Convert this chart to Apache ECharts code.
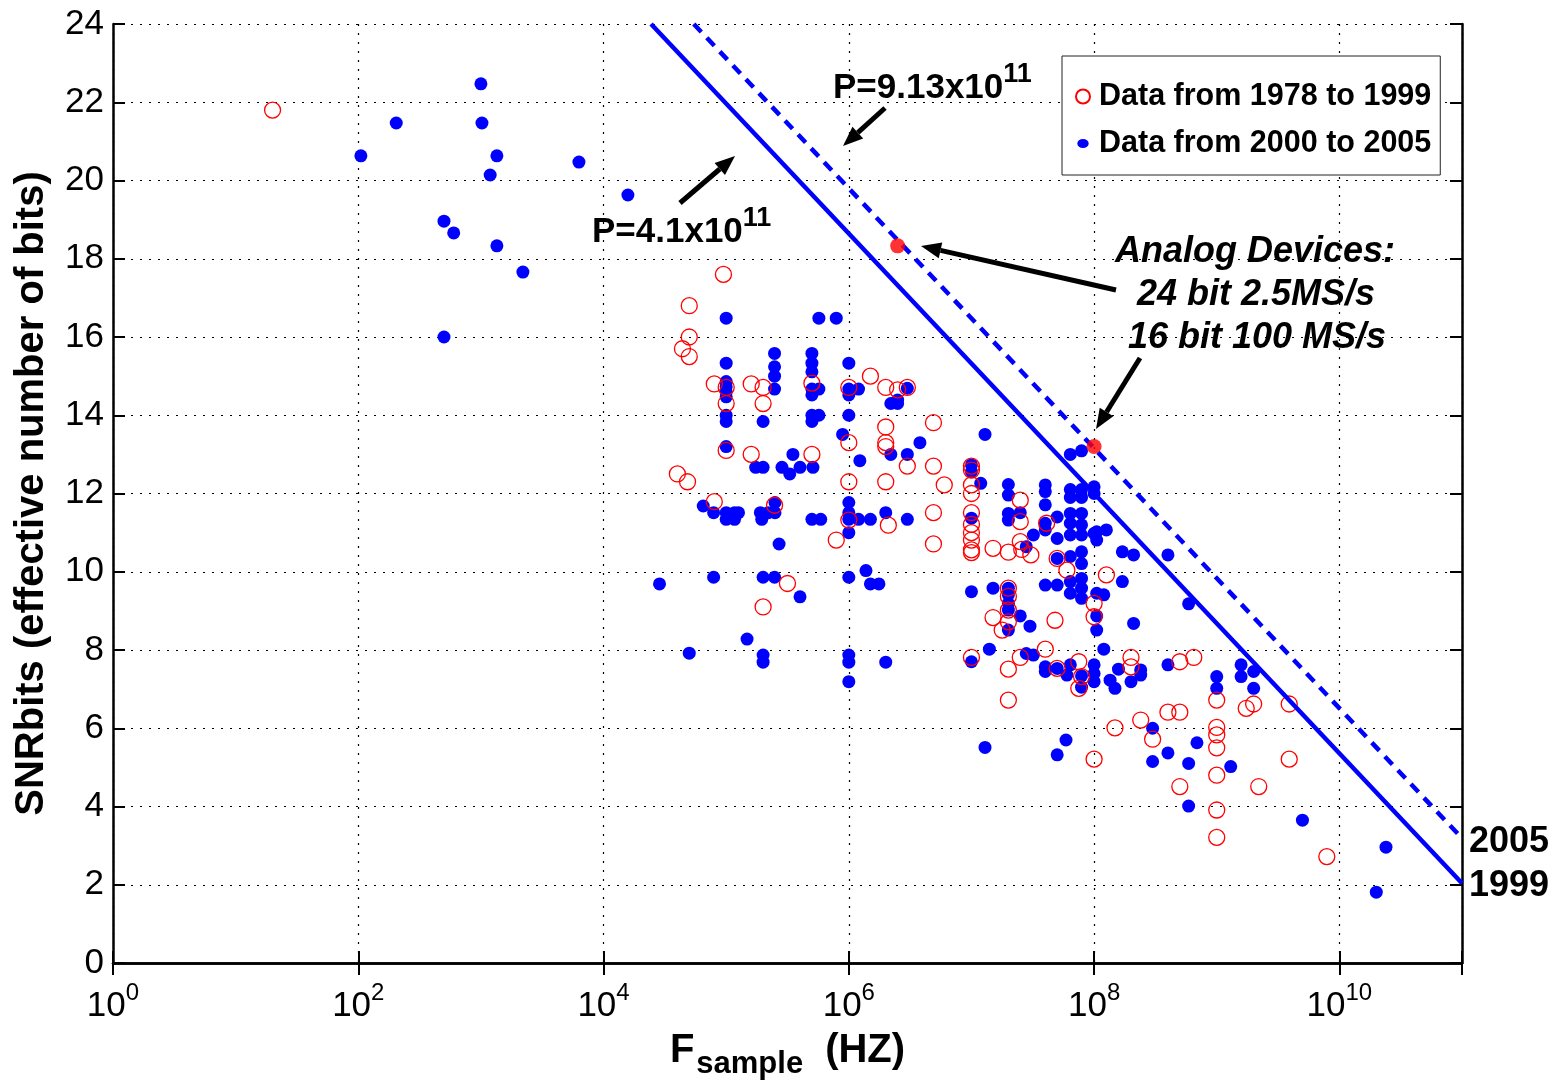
<!DOCTYPE html>
<html>
<head>
<meta charset="utf-8">
<script src="https://cdn.jsdelivr.net/npm/echarts@6/dist/echarts.min.js"></script>
<style>
html,body{margin:0;padding:0;background:#fff;}
#chart{width:1558px;height:1086px;}
</style>
</head>
<body>
<div id="chart"></div>
<script>
// ---- data: [sample frequency (Hz), SNR bits] ----
const data1978to1999 = [
  [20, 21.8],
  [9.5e4, 17.6], [5.0e4, 16.8], [5.0e4, 16.0], [4.4e4, 15.7], [5.0e4, 15.5],
  [8.0e4, 14.8], [1e5, 14.71], [1e5, 14.3], [1.6e5, 14.8], [2e5, 14.71], [2e5, 14.3],
  [5e5, 14.82], [1e6, 14.71], [1.5e6, 15.0], [2e6, 14.71], [2.5e6, 14.65], [3e6, 14.71],
  [1e5, 13.1], [1.6e5, 13.0], [5e5, 13.0], [1e6, 13.3], [2e6, 13.7], [2e6, 13.3], [2e6, 13.2],
  [3e6, 12.7], [4e4, 12.5], [4.84e4, 12.3], [1e6, 12.3], [2e6, 12.3],
  [8e4, 11.79], [2.48e5, 11.7], [1e6, 11.32], [2.1e6, 11.19], [7.9e5, 10.81],
  [3.16e5, 9.7], [2e5, 9.1],
  [4.9e6, 13.81], [4.9e6, 12.7], [6e6, 12.22],
  [1e7, 12.7], [1e7, 12.6], [1e7, 12.22], [1e7, 12.0],
  [4.9e6, 11.51],
  [1e7, 11.51], [1e7, 11.21], [1e7, 11.0], [1e7, 10.81], [1e7, 10.56], [1e7, 10.49],
  [4.9e6, 10.71], [1.5e7, 10.6], [2e7, 10.5],
  [2.5e7, 11.83], [2.5e7, 11.28], [2.5e7, 10.77], [2.57e7, 10.57], [3.05e7, 10.43],
  [4.1e7, 11.24], [5e7, 10.34], [6e7, 10.04], [1.26e8, 9.92],
  [2e7, 9.58], [2e7, 9.37], [2e7, 9.02],
  [1e8, 8.85], [1e8, 9.19],
  [1.5e7, 8.83], [4.8e7, 8.76],
  [2e7, 8.72], [1.78e7, 8.51],
  [1e7, 7.81], [2e7, 7.51], [2.5e7, 7.81], [4e7, 8.02], [5e7, 7.53], [7.5e7, 7.70],
  [7.5e7, 7.02], [7.9e7, 7.32],
  [2e8, 7.81], [2e8, 7.57],
  [2e7, 6.72], [1.48e8, 6.01], [2.4e8, 6.21], [1e8, 5.21],
  [5e8, 7.70], [6.5e8, 7.81],
  [1e9, 6.72], [1.74e9, 6.51], [2e9, 6.62], [3.9e9, 6.62],
  [4e8, 6.41], [5e8, 6.41], [3e8, 5.72],
  [1e9, 6.02], [1e9, 5.83], [1e9, 5.50],
  [3.9e9, 5.21], [1e9, 4.80], [5e8, 4.51], [2.2e9, 4.51],
  [7.9e9, 2.72], [1e9, 3.91], [1e9, 3.21]
];

const data2000to2005 = [
  [1000, 22.47], [204, 21.47], [1020, 21.47], [105, 20.63], [1350, 20.63], [1190, 20.14],
  [6300, 20.47], [1.58e4, 19.63], [500, 18.96], [600, 18.66], [1350, 18.33], [2200, 17.66],
  [500, 16.0],
  [1e5, 16.48], [5.7e5, 16.48], [7.9e5, 16.48],
  [1e5, 15.33], [1e5, 14.86], [1e5, 14.73], [1e5, 14.6], [1e5, 14.47], [1e5, 14.0], [1e5, 13.84], [1e5, 13.2],
  [2.48e5, 15.58], [2.48e5, 15.24], [2.48e5, 15.0], [2.48e5, 14.67],
  [5e5, 15.58], [5e5, 15.33], [5e5, 15.11], [5e5, 14.67], [5.7e5, 14.67], [5e5, 14.52],
  [5e5, 14.0], [5.7e5, 14.0], [5e5, 13.84],
  [1e6, 15.33], [1e6, 14.67], [1e6, 14.52], [1.2e6, 14.67], [1e6, 14.0],
  [8.9e5, 13.51], [2e5, 13.84],
  [2.2e6, 14.3], [2.5e6, 14.39], [2.5e6, 14.3], [3e6, 14.69],
  [2.2e6, 13.0], [3e6, 13.0], [1.23e6, 12.84], [3.5e5, 13.0],
  [1.74e5, 12.67], [2e5, 12.67], [2.85e5, 12.67], [3.3e5, 12.5], [4e5, 12.67], [5.1e5, 12.67],
  [3.8e6, 13.3],
  [6.5e4, 11.68], [7.9e4, 11.51],
  [1e5, 11.51], [1e5, 11.34], [1.17e5, 11.51], [1.26e5, 11.51], [1.17e5, 11.34],
  [1.9e5, 11.51], [1.95e5, 11.34], [2.2e5, 11.51], [2.5e5, 11.51], [2.5e5, 11.77],
  [5e5, 11.34], [5.9e5, 11.34],
  [1e6, 11.77], [1e6, 11.51], [1e6, 11.34], [1e6, 11.0],
  [1.2e6, 11.34], [1.5e6, 11.34], [2e6, 11.51], [3e6, 11.34],
  [2.7e5, 10.71], [2.86e4, 9.69], [7.9e4, 9.86], [2e5, 9.86], [2.48e5, 9.86],
  [4e5, 9.36], [1e6, 9.86], [1.38e6, 10.03], [1.5e6, 9.69], [1.76e6, 9.69],
  [1.48e5, 8.28], [5e4, 7.92], [2e5, 7.87], [2e5, 7.69],
  [1e6, 7.87], [1e6, 7.69], [1e6, 7.19], [2e6, 7.69],
  [1.29e7, 13.51], [1e7, 12.73], [1e7, 12.56], [1.19e7, 12.26],
  [2e7, 12.23], [2e7, 11.96], [4e7, 12.22], [4e7, 12.05], [4e7, 11.71],
  [6.4e7, 13.0], [7.9e7, 13.09],
  [6.4e7, 12.1], [6.4e7, 11.9], [7.9e7, 12.1], [7.9e7, 11.9], [1e8, 12.17], [1e8, 12.0],
  [2e7, 11.49], [2e7, 11.32], [2.5e7, 11.51], [5e7, 11.4],
  [4e7, 11.24], [4e7, 11.07], [3.2e7, 10.94], [2.8e7, 10.64], [5e7, 10.85],
  [6.4e7, 11.49], [6.4e7, 11.24], [6.4e7, 10.94], [7.9e7, 11.49], [7.9e7, 11.2], [7.9e7, 10.94], [1e8, 10.98],
  [1e7, 11.37],
  [6.4e7, 10.39], [7.9e7, 10.51], [7.9e7, 10.21],
  [1.05e8, 11.02], [1.26e8, 11.07], [1.05e8, 10.81], [1.7e8, 10.51],
  [5e7, 10.34], [1.7e8, 9.75], [1e7, 9.49],
  [1.5e7, 9.58], [2e7, 9.58], [2e7, 9.41], [2e7, 9.19], [2e7, 9.02],
  [4e7, 9.66], [5e7, 9.66], [6.4e7, 9.75], [6.4e7, 9.45], [7.9e7, 9.83], [7.9e7, 9.58], [7.9e7, 9.32],
  [1.05e8, 9.45], [1.2e8, 9.41],
  [2.5e7, 8.87], [1.05e8, 8.87],
  [3.0e7, 8.61], [2e7, 8.51], [1.05e8, 8.51], [2.1e8, 8.68],
  [1.4e7, 8.02], [1e7, 7.70], [2.8e7, 7.91], [3.2e7, 7.87], [1.2e8, 8.02],
  [4e7, 7.57], [4e7, 7.45], [5e7, 7.53], [6e7, 7.36], [6.4e7, 7.62],
  [7.9e7, 7.34], [7.9e7, 7.05], [1e8, 7.62], [1e8, 7.40], [1e8, 7.19],
  [1.35e8, 7.23], [1.48e8, 7.02], [1.58e8, 7.51], [2e8, 7.19], [2.4e8, 7.49],
  [1.29e7, 5.51], [5.9e7, 5.70], [5e7, 5.32],
  [2.1e8, 10.43], [4e8, 10.43], [5.9e8, 9.18],
  [4e8, 7.62], [2.4e8, 7.36],
  [1e9, 7.32], [1e9, 7.02], [1.58e9, 7.62], [2e9, 7.45], [2e9, 7.02], [1.58e9, 7.32],
  [3e8, 6.0], [6.9e8, 5.63], [4e8, 5.37], [3e8, 5.15], [5.9e8, 5.10], [1.3e9, 5.02],
  [5e9, 3.65], [2.4e10, 2.96], [2e10, 1.81], [5.9e8, 4.01]
];

// Analog Devices highlighted parts
const analogDevices = [[2.5e6, 18.33], [1e8, 13.2]];

// FOM lines (P = 2^SNRbits * Fs), end points
const line1999 = [[2.44e4, 24], [1e11, 2.04]];   // P = 4.1x10^11
const line2005 = [[5.44e4, 24], [1e11, 3.19]];   // P = 9.13x10^11

const yTicks = {min: 0, max: 24, interval: 2};
const xRange = {min: 1, max: 1e11};

const FONT = '"Liberation Sans", Arial, Helvetica, sans-serif';

const chart = echarts.init(document.getElementById('chart'), null, {renderer: 'canvas'});

function xLabel(v) {
  const e = Math.round(Math.log10(v));
  if (e % 2 !== 0 || e > 10) return '';
  return '{b|10}{s|' + e + '}';
}

function arrow(x1, y1, x2, y2) {
  const ang = Math.atan2(y2 - y1, x2 - x1);
  const L = 20, W = 8;
  const bx = x2 - L * Math.cos(ang), by = y2 - L * Math.sin(ang);
  const px = -Math.sin(ang) * W, py = Math.cos(ang) * W;
  return [
    {type: 'line', shape: {x1: x1, y1: y1, x2: bx, y2: by}, style: {stroke: '#000', lineWidth: 5}, z: 100},
    {type: 'polygon', shape: {points: [[x2, y2], [bx + px, by + py], [bx - px, by - py]]}, style: {fill: '#000'}, z: 100}
  ];
}

function txt(x, y, text, opts) {
  return {
    type: 'text', x: x, y: y, z: 101,
    style: Object.assign({
      text: text, fill: '#000', fontFamily: FONT, fontWeight: 'bold', fontSize: 36,
      align: 'left', verticalAlign: 'middle', textAlign: 'left', textVerticalAlign: 'middle'
    }, opts || {})
  };
}

const supRich = {
  m: {fontSize: 35, fontWeight: 'bold', fontFamily: FONT, color: '#000'},
  s: {fontSize: 27, fontWeight: 'bold', fontFamily: FONT, color: '#000', padding: [0, 0, 26, 0]}
};

const graphics = [].concat(
  arrow(885, 108, 843, 146),
  arrow(680, 203, 735, 156),
  arrow(1116, 290, 921, 246),
  arrow(1140, 358, 1096, 429),
  [
    txt(833, 88, '{m|P=9.13x10}{s|11}', {rich: supRich}),
    txt(592, 232, '{m|P=4.1x10}{s|11}', {rich: supRich}),
    txt(1255, 252, 'Analog Devices:', {fontStyle: 'italic', align: 'center', textAlign: 'center'}),
    txt(1256, 295, '24 bit 2.5MS/s', {fontStyle: 'italic', align: 'center', textAlign: 'center'}),
    txt(1257, 338, '16 bit 100 MS/s', {fontStyle: 'italic', align: 'center', textAlign: 'center'}),
    txt(1469, 842, '2005', {}),
    txt(1469, 886, '1999', {})
  ]
);

const axisLineStyle = {color: '#000', width: 2.5};

const option = {
  animation: false,
  backgroundColor: '#fff',
  grid: {left: 113, right: 96, top: 24, bottom: 123, containLabel: false, outerBoundsMode: 'none'},
  legend: {
    left: 1062, top: 56,
    orient: 'vertical',
    padding: [25, 9, 16, 13],
    itemGap: 16,
    itemWidth: 16, itemHeight: 14,
    borderColor: '#222', borderWidth: 1,
    backgroundColor: '#fff',
    textStyle: {fontFamily: FONT, fontWeight: 'bold', fontSize: 30.5, color: '#000', padding: [0, 0, 0, 3]},
    data: [
      {name: 'Data from 1978 to 1999', icon: 'circle'},
      {name: 'Data from 2000 to 2005', icon: 'path://M0,2 A5,4 0 1 1 10,2 A5,4 0 1 1 0,2 Z M-2,-4 L-2,-4 M12,8 L12,8'}
    ],
    z: 50
  },
  xAxis: [
    {
      type: 'log', logBase: 10, min: xRange.min, max: xRange.max, interval: 2,
      position: 'bottom',
      axisLine: {show: true, lineStyle: axisLineStyle},
      axisTick: {show: true, inside: true, length: 12, lineStyle: {color: '#000', width: 2}},
      minorTick: {show: false},
      axisLabel: {
        formatter: xLabel, margin: 18, color: '#000',
        rich: {
          b: {fontFamily: FONT, fontSize: 35, color: '#000'},
          s: {fontFamily: FONT, fontSize: 24, color: '#000', padding: [0, 0, 26, 0]}
        }
      },
      splitLine: {show: true, lineStyle: {color: '#000', width: 1.2, type: [2, 7]}},
      name: '{f|F}{sub|sample}{h|(HZ)}',
      nameLocation: 'middle', nameGap: 58,
      nameTextStyle: {
        rich: {
          f: {fontFamily: FONT, fontSize: 40, fontWeight: 'bold', color: '#000'},
          sub: {fontFamily: FONT, fontSize: 31, fontWeight: 'bold', color: '#000', padding: [28, 0, 0, 2]},
          h: {fontFamily: FONT, fontSize: 40, fontWeight: 'bold', color: '#000', padding: [0, 0, 0, 22]}
        }
      }
    },
    {
      type: 'log', logBase: 10, min: xRange.min, max: xRange.max, interval: 2,
      position: 'top',
      axisLine: {show: true, lineStyle: axisLineStyle},
      axisTick: {show: true, inside: true, length: 12, lineStyle: {color: '#000', width: 2}},
      axisLabel: {show: false},
      splitLine: {show: false}
    }
  ],
  yAxis: [
    {
      type: 'value', min: yTicks.min, max: yTicks.max, interval: yTicks.interval,
      position: 'left',
      axisLine: {show: true, lineStyle: axisLineStyle},
      axisTick: {show: true, inside: true, length: 12, lineStyle: {color: '#000', width: 2}},
      axisLabel: {fontFamily: FONT, fontSize: 35, color: '#000', margin: 9},
      splitLine: {show: true, lineStyle: {color: '#000', width: 1.2, type: [2, 7]}},
      name: 'SNRbits (effective number of bits)',
      nameLocation: 'middle', nameGap: 61, nameRotate: 90,
      nameTextStyle: {fontFamily: FONT, fontSize: 40, fontWeight: 'bold', color: '#000'}
    },
    {
      type: 'value', min: yTicks.min, max: yTicks.max, interval: yTicks.interval,
      position: 'right',
      axisLine: {show: true, lineStyle: axisLineStyle},
      axisTick: {show: true, inside: true, length: 12, lineStyle: {color: '#000', width: 2}},
      axisLabel: {show: false},
      splitLine: {show: false}
    }
  ],
  series: [
    {
      name: 'Data from 2000 to 2005', type: 'scatter', xAxisIndex: 0, yAxisIndex: 0,
      data: data2000to2005, symbol: 'circle', symbolSize: 13,
      itemStyle: {color: '#0000FF', opacity: 1}, z: 2
    },
    {
      name: 'Data from 1978 to 1999', type: 'scatter', xAxisIndex: 0, yAxisIndex: 0,
      data: data1978to1999, symbol: 'circle', symbolSize: 16,
      itemStyle: {color: 'rgba(255,255,255,0)', borderColor: '#FF0000', borderWidth: 1.3, opacity: 1}, z: 3
    },
    {
      name: 'P1999', type: 'line', xAxisIndex: 0, yAxisIndex: 0,
      data: line1999, showSymbol: false, symbol: 'none', clip: true,
      lineStyle: {color: '#0000FF', width: 4.5}, z: 4
    },
    {
      name: 'P2005', type: 'line', xAxisIndex: 0, yAxisIndex: 0,
      data: line2005, showSymbol: false, symbol: 'none', clip: true,
      lineStyle: {color: '#0000FF', width: 4.5, type: [11, 8]}, z: 4
    },
    {
      name: 'Analog Devices', type: 'scatter', xAxisIndex: 0, yAxisIndex: 0,
      data: analogDevices, symbol: 'circle', symbolSize: 15,
      itemStyle: {color: '#FF0000'}, z: 5
    }
  ],
  graphic: graphics
};

chart.setOption(option);
</script>
</body>
</html>
